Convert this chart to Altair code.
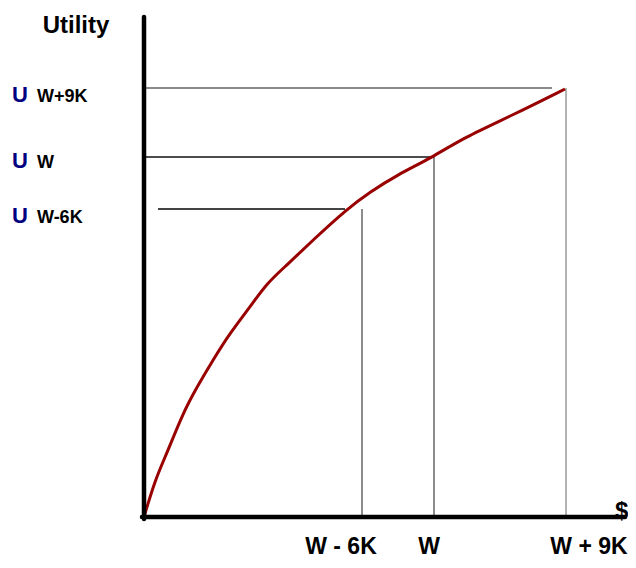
import altair as alt
import pandas as pd

# Utility curve (wealth vs utility)
wealth = [0, 11, 23, 39, 53, 69, 86, 106, 123, 143, 169, 203, 226, 253, 289, 319, 369, 421]
utility = [0, 37, 64, 104, 130, 157, 184, 210, 234, 252, 277, 308, 325, 342, 360, 379, 402, 428]

# Wealth levels on the x axis and their utilities
x_labels = ["W - 6K", "W", "W + 9K"]
x_levels = [218, 290, 422]
x_label_pos = [197, 285, 445]
u_labels = ["W-6K", "W", "W+9K"]
u_levels = [308, 360, 429]
u_label_base = [294, 349, 415]

# Guide lines (horizontal to the utility axis, vertical to the wealth axis)
h_start = [14, 2, 2]
h_end = [201, 290, 408]
h_colors = ["#444444", "#111111", "#8a8a8a"]
v_colors = ["#666666", "#666666", "#999999"]

xs = alt.Scale(domain=[-136, 484], range=[0, 620])
ys = alt.Scale(domain=[-43, 509], range=[552, 0])

def X(f):
    return alt.X(f, type="quantitative", scale=xs, axis=None)

def Y(f):
    return alt.Y(f, type="quantitative", scale=ys, axis=None)

rules = []
for i in range(3):
    rules.append({"x": h_start[i], "x2": h_end[i], "y": u_levels[i], "y2": u_levels[i],
                  "c": h_colors[i], "w": 1.8 if i != 1 else 1.4})
    rules.append({"x": x_levels[i], "x2": x_levels[i], "y": 0, "y2": u_levels[i] if i else 308,
                  "c": v_colors[i], "w": 1.5})
rules_df = pd.DataFrame(rules)

guides = alt.Chart(rules_df).mark_rule().encode(
    x=X("x"), x2="x2", y=Y("y"), y2="y2",
    color=alt.Color("c:N", scale=None),
    strokeWidth=alt.StrokeWidth("w:Q", scale=None),
)

curve_df = pd.DataFrame({"wealth": wealth, "utility": utility})
curve = alt.Chart(curve_df).mark_line(
    color="#990000", strokeWidth=3, interpolate="basis"
).encode(x=X("wealth"), y=Y("utility"), order="wealth:Q")

axes_df = pd.DataFrame({"x": [0, -2], "x2": [0, 481], "y": [-2, 0], "y2": [500, 0]})
axes = alt.Chart(axes_df).mark_rule(color="black", strokeWidth=4.5, strokeCap="round").encode(
    x=X("x"), x2="x2", y=Y("y"), y2="y2"
)

font = "Liberation Sans"

title_df = pd.DataFrame({"t": ["Utility"], "x": [-68], "y": [484]})
title = alt.Chart(title_df).mark_text(
    font=font, fontWeight="bold", fontSize=24, align="center", baseline="alphabetic", color="black"
).encode(x=X("x"), y=Y("y"), text="t:N")

u_df = pd.DataFrame({"t": ["U"] * 3, "x": [-132] * 3, "y": u_label_base})
u_text = alt.Chart(u_df).mark_text(
    font=font, fontWeight="bold", fontSize=22, align="left", baseline="alphabetic", color="#000080"
).encode(x=X("x"), y=Y("y"), text="t:N")

ul_df = pd.DataFrame({"t": u_labels, "x": [-107] * 3, "y": u_label_base})
ul_text = alt.Chart(ul_df).mark_text(
    font=font, fontWeight="bold", fontSize=18, align="left", baseline="alphabetic", color="black"
).encode(x=X("x"), y=Y("y"), text="t:N")

xl_df = pd.DataFrame({"t": x_labels, "x": x_label_pos, "y": [-37] * 3})
xl_text = alt.Chart(xl_df).mark_text(
    font=font, fontWeight="bold", fontSize=23, align="center", baseline="alphabetic", color="black"
).encode(x=X("x"), y=Y("y"), text="t:N")

d_df = pd.DataFrame({"t": ["$"], "x": [471], "y": [-2]})
d_text = alt.Chart(d_df).mark_text(
    font=font, fontWeight="bold", fontSize=24, align="left", baseline="alphabetic", color="black"
).encode(x=X("x"), y=Y("y"), text="t:N")

chart = alt.layer(guides, curve, axes, title, u_text, ul_text, xl_text, d_text).properties(
    width=620, height=552, padding=0, autosize=alt.AutoSizeParams(type="none"),
    background="white",
).configure_view(stroke=None)

chart.save("out.html", embed_options={"renderer": "svg", "actions": False})
